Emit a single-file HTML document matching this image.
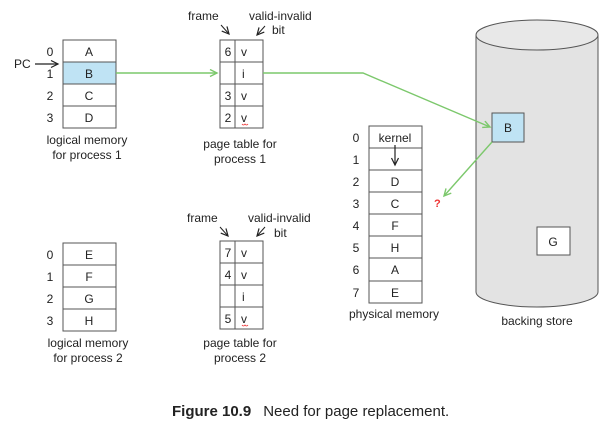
<!DOCTYPE html>
<html><head><meta charset="utf-8"><style>
html,body{margin:0;padding:0;background:#fff;width:610px;height:423px;overflow:hidden}
svg{display:block;font-family:"Liberation Sans",Arial,sans-serif}
</style></head><body>
<svg width="610" height="423" viewBox="0 0 610 423" xmlns="http://www.w3.org/2000/svg">
<defs>
<marker id="ab" markerWidth="10" markerHeight="10" refX="8" refY="4" orient="auto" markerUnits="userSpaceOnUse"><path d="M1,0.5 L8,4 L1,7.5" fill="none" stroke="#222" stroke-width="1.2"/></marker>
<marker id="ag" markerWidth="10" markerHeight="10" refX="8" refY="4" orient="auto" markerUnits="userSpaceOnUse"><path d="M1,0.5 L8,4 L1,7.5" fill="none" stroke="#7cc86c" stroke-width="1.4"/></marker>
</defs>
<g font-size="12" fill="#222">
<path d="M476,35 L476,292 A61,15 0 0 0 598,292 L598,35" fill="#e3e3e3" stroke="#555" stroke-width="1"/>
<ellipse cx="537" cy="35" rx="61" ry="15" fill="#e8e8e8" stroke="#555"/>
<rect x="492" y="113" width="32" height="29" fill="#bfe3f4" stroke="#555"/>
<text x="508" y="132" text-anchor="middle">B</text>
<rect x="537" y="227" width="33" height="28" fill="#fff" stroke="#555"/>
<text x="553" y="246" text-anchor="middle">G</text>
<text x="537" y="325" text-anchor="middle">backing store</text>

<rect x="63" y="62" width="53" height="22" fill="#bfe3f4"/>
<g fill="none" stroke="#555"><rect x="63" y="40" width="53" height="88"/><line x1="63" y1="62" x2="116" y2="62"/><line x1="63" y1="84" x2="116" y2="84"/><line x1="63" y1="106" x2="116" y2="106"/></g>
<g text-anchor="middle"><text x="89" y="56">A</text><text x="89" y="78">B</text><text x="89" y="100">C</text><text x="89" y="122">D</text>
<text x="50" y="56">0</text><text x="50" y="78">1</text><text x="50" y="100">2</text><text x="50" y="122">3</text>
<text x="87" y="144">logical memory</text><text x="87" y="159">for process 1</text></g>
<text x="14" y="68">PC</text>
<line x1="35" y1="64" x2="58" y2="64" stroke="#222" stroke-width="1.2" marker-end="url(#ab)"/>

<g fill="none" stroke="#555"><rect x="220" y="40" width="43" height="88"/><line x1="235" y1="40" x2="235" y2="128"/><line x1="220" y1="62" x2="263" y2="62"/><line x1="220" y1="84" x2="263" y2="84"/><line x1="220" y1="106" x2="263" y2="106"/></g>
<text x="228" y="56" text-anchor="middle">6</text><text x="241" y="56">v</text>
<text x="242" y="78">i</text>
<text x="228" y="100" text-anchor="middle">3</text><text x="241" y="100">v</text>
<text x="228" y="122" text-anchor="middle">2</text><text x="241" y="122">v</text>
<path d="M242,124 q1.5,2 3,0 q1.5,2 3,0" fill="none" stroke="#e33" stroke-width="0.8"/>
<text x="188" y="20">frame</text><text x="249" y="20">valid-invalid</text><text x="272" y="34">bit</text>
<line x1="221" y1="25" x2="229" y2="34" stroke="#222" marker-end="url(#ab)"/>
<line x1="265" y1="26" x2="257" y2="35" stroke="#222" marker-end="url(#ab)"/>
<g text-anchor="middle"><text x="240" y="148">page table for</text><text x="240" y="163">process 1</text></g>

<line x1="116" y1="73" x2="217" y2="73" stroke="#7cc86c" stroke-width="1.4" marker-end="url(#ag)"/>
<polyline points="263,73 363,73 490,127" fill="none" stroke="#7cc86c" stroke-width="1.4" marker-end="url(#ag)"/>
<line x1="492" y1="142" x2="444" y2="196" stroke="#7cc86c" stroke-width="1.4" marker-end="url(#ag)"/>
<text x="434" y="207" fill="#e33" font-weight="bold" font-size="11">?</text>

<g fill="none" stroke="#555"><rect x="369" y="126" width="53" height="177"/>
<line x1="369" y1="148" x2="422" y2="148"/><line x1="369" y1="170" x2="422" y2="170"/><line x1="369" y1="192" x2="422" y2="192"/><line x1="369" y1="214" x2="422" y2="214"/><line x1="369" y1="236" x2="422" y2="236"/><line x1="369" y1="258" x2="422" y2="258"/><line x1="369" y1="281" x2="422" y2="281"/></g>
<g text-anchor="middle"><text x="395" y="142">kernel</text><text x="395" y="186">D</text><text x="395" y="208">C</text><text x="395" y="230">F</text><text x="395" y="252">H</text><text x="395" y="274">A</text><text x="395" y="297">E</text>
<text x="356" y="142">0</text><text x="356" y="164">1</text><text x="356" y="186">2</text><text x="356" y="208">3</text><text x="356" y="230">4</text><text x="356" y="252">5</text><text x="356" y="274">6</text><text x="356" y="297">7</text>
<text x="394" y="318">physical memory</text></g>
<line x1="395" y1="145" x2="395" y2="165" stroke="#222" stroke-width="1.2" marker-end="url(#ab)"/>

<g fill="none" stroke="#555"><rect x="63" y="243" width="53" height="88"/><line x1="63" y1="265" x2="116" y2="265"/><line x1="63" y1="287" x2="116" y2="287"/><line x1="63" y1="309" x2="116" y2="309"/></g>
<g text-anchor="middle"><text x="89" y="259">E</text><text x="89" y="281">F</text><text x="89" y="303">G</text><text x="89" y="325">H</text>
<text x="50" y="259">0</text><text x="50" y="281">1</text><text x="50" y="303">2</text><text x="50" y="325">3</text>
<text x="88" y="347">logical memory</text><text x="88" y="362">for process 2</text></g>

<g fill="none" stroke="#555"><rect x="220" y="241" width="43" height="88"/><line x1="235" y1="241" x2="235" y2="329"/><line x1="220" y1="263" x2="263" y2="263"/><line x1="220" y1="285" x2="263" y2="285"/><line x1="220" y1="307" x2="263" y2="307"/></g>
<text x="228" y="257" text-anchor="middle">7</text><text x="241" y="257">v</text>
<text x="228" y="279" text-anchor="middle">4</text><text x="241" y="279">v</text>
<text x="242" y="301">i</text>
<text x="228" y="323" text-anchor="middle">5</text><text x="241" y="323">v</text>
<path d="M242,325 q1.5,2 3,0 q1.5,2 3,0" fill="none" stroke="#e33" stroke-width="0.8"/>
<text x="187" y="222">frame</text><text x="248" y="222">valid-invalid</text><text x="274" y="237">bit</text>
<line x1="220" y1="227" x2="228" y2="236" stroke="#222" marker-end="url(#ab)"/>
<line x1="265" y1="227" x2="257" y2="236" stroke="#222" marker-end="url(#ab)"/>
<g text-anchor="middle"><text x="240" y="347">page table for</text><text x="240" y="362">process 2</text></g>

<text x="172" y="416" font-size="15"><tspan font-weight="bold">Figure 10.9</tspan><tspan dx="12">Need for page replacement.</tspan></text>
</g>
</svg>
</body></html>
